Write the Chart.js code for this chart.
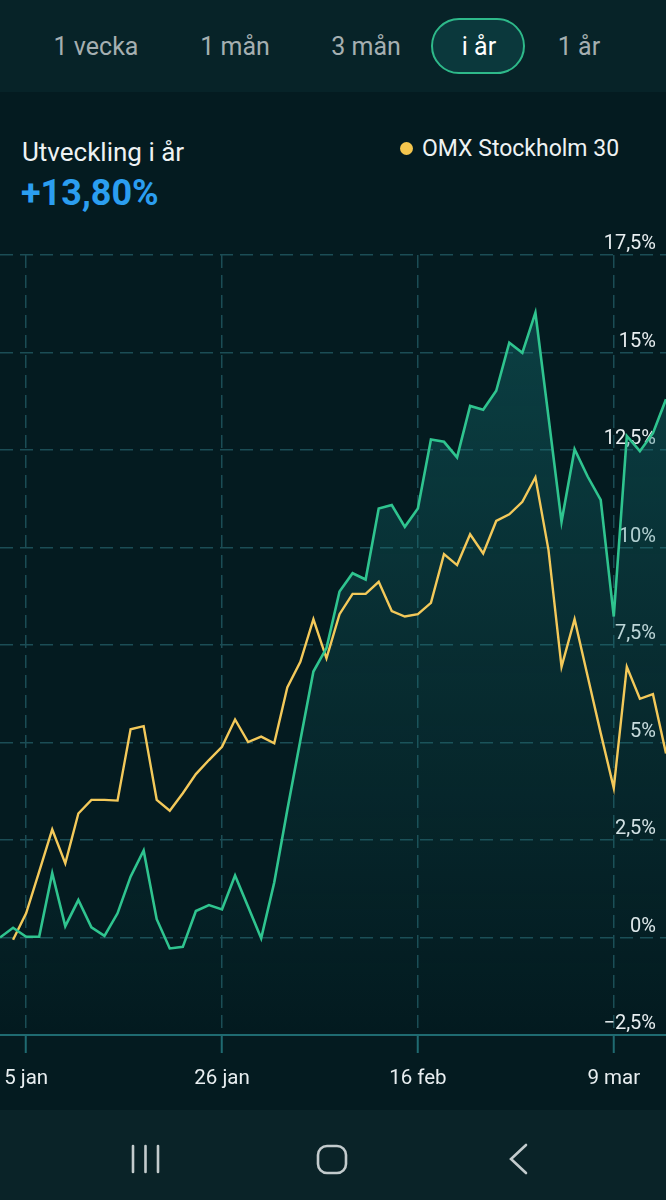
<!DOCTYPE html>
<html><head><meta charset="utf-8">
<script src="https://cdn.jsdelivr.net/npm/chart.js@4.4.1/dist/chart.umd.min.js"></script>
<style>
html,body{margin:0;padding:0;background:#041b20;width:666px;height:1200px;overflow:hidden;font-family:Roboto,"Noto Sans",sans-serif;}
#tabs{position:absolute;left:0;top:0;width:666px;height:92px;background:#072328;}
.tab{position:absolute;top:46px;transform:translate(-50%,-50%);font-size:25px;color:#a5afb1;white-space:nowrap;line-height:1;}
#pill{position:absolute;left:431px;top:18px;width:90px;height:52px;border:2px solid #2eb98a;border-radius:28px;background:#0b383c;}
#title{position:absolute;left:22px;top:139px;font-size:26px;color:#eef2f3;line-height:1;}
#value{position:absolute;left:21px;top:175px;font-size:36px;font-weight:bold;color:#2b9ef0;line-height:1;}
#legend{position:absolute;left:400px;top:137px;font-size:23px;color:#eef2f3;line-height:1;white-space:nowrap;}
#legend .dot{display:inline-block;width:13px;height:13px;border-radius:50%;background:#f5c64e;margin-right:9px;vertical-align:1px;}
#chartbox{position:absolute;left:0;top:230px;width:666px;height:880px;}
#nav{position:absolute;left:0;top:1110px;width:666px;height:90px;background:#0a2328;}
</style></head>
<body>
<div id="tabs">
  <div id="pill"></div>
  <div class="tab" style="left:96px">1 vecka</div>
  <div class="tab" style="left:235px">1 mån</div>
  <div class="tab" style="left:366px">3 mån</div>
  <div class="tab" style="left:479px;color:#ffffff">i år</div>
  <div class="tab" style="left:579px">1 år</div>
</div>
<div id="title">Utveckling i år</div>
<div id="value">+13,80%</div>
<div id="legend"><span class="dot"></span>OMX Stockholm 30</div>
<div id="chartbox"><canvas id="c" width="666" height="880"></canvas></div>
<div id="nav">
<svg width="666" height="90" style="position:absolute;left:0;top:0">
  <g stroke="#c3cbcd" stroke-width="2.6" fill="none" stroke-linecap="round">
    <line x1="133" y1="36" x2="133" y2="62"/>
    <line x1="145.5" y1="36" x2="145.5" y2="62"/>
    <line x1="158" y1="36" x2="158" y2="62"/>
    <rect x="318" y="36" width="28" height="27" rx="9"/>
    <polyline points="526,35 511,49 526,63"/>
  </g>
</svg>
</div>
<script>
// Trading days shown on the x axis
const dates = ['3 jan','4 jan','5 jan','6 jan','9 jan','10 jan','11 jan','12 jan','13 jan','16 jan','17 jan','18 jan','19 jan','20 jan','23 jan','24 jan','25 jan','26 jan','27 jan','30 jan','31 jan','1 feb','2 feb','3 feb','6 feb','7 feb','8 feb','9 feb','10 feb','13 feb','14 feb','15 feb','16 feb','17 feb','20 feb','21 feb','22 feb','23 feb','24 feb','27 feb','28 feb','1 mar','2 mar','3 mar','6 mar','7 mar','8 mar','9 mar','10 mar','13 mar','14 mar','15 mar'];
const xTickLabels = ['5 jan','26 jan','16 feb','9 mar'];
const yTicks = [-2.5, 0, 2.5, 5, 7.5, 10, 12.5, 15, 17.5];
const yTickLabels = ['−2,5%','0%','2,5%','5%','7,5%','10%','12,5%','15%','17,5%'];
// Portfolio development (%)
const portfolio = [0.00,0.25,0.02,0.02,1.65,0.29,0.96,0.26,0.04,0.62,1.56,2.23,0.47,-0.28,-0.24,0.68,0.83,0.72,1.59,0.79,-0.02,1.41,3.27,5.06,6.82,7.42,8.87,9.34,9.18,11.00,11.09,10.53,11.00,12.77,12.71,12.31,13.63,13.53,14.02,15.25,14.99,16.02,13.35,10.66,12.52,11.82,11.22,8.23,12.86,12.47,12.93,13.80];
// OMX Stockholm 30 (%)
const omxs30 = [null,-0.06,0.62,1.69,2.77,1.90,3.18,3.53,3.53,3.51,5.34,5.42,3.53,3.25,3.70,4.19,4.55,4.89,5.59,5.01,5.15,4.98,6.41,7.07,8.16,7.16,8.29,8.81,8.81,9.12,8.37,8.23,8.29,8.58,9.83,9.55,10.34,9.85,10.68,10.85,11.17,11.80,9.94,6.94,8.16,6.70,5.24,3.83,6.94,6.12,6.24,4.72];

const gridColor = '#1b4d55';
const axisColor = '#1f6b71';
const textColor = '#e8eef0';

function fillGradient(context){
  const chart = context.chart;
  const area = chart.chartArea;
  if(!area) return 'rgba(0,0,0,0)';
  const g = chart.ctx.createLinearGradient(0, area.top, 0, area.bottom);
  g.addColorStop(0, 'rgba(24,120,122,0.42)');
  g.addColorStop(0.55, 'rgba(24,120,122,0.18)');
  g.addColorStop(1, 'rgba(24,120,122,0)');
  return g;
}

new Chart(document.getElementById('c'), {
  type: 'line',
  data: {
    labels: dates,
    datasets: [
      {label:'Portfölj', data: portfolio, borderColor:'#2fc48f', borderWidth:2.6, pointRadius:0, tension:0, fill:'start', backgroundColor: fillGradient},
      {label:'OMX Stockholm 30', data: omxs30, borderColor:'#f3c95a', borderWidth:2.4, pointRadius:0, tension:0, fill:false}
    ]
  },
  options: {
    responsive:false,
    animation:false,
    devicePixelRatio:1,
    layout:{padding:{top:25,left:0,right:0,bottom:0}},
    plugins:{legend:{display:false}, tooltip:{enabled:false}, filler:{drawTime:'beforeDatasetsDraw'}},
    scales:{
      x:{
        type:'category',
        offset:false,
        afterBuildTicks: axis => { axis.ticks = axis.ticks.filter(t => xTickLabels.includes(dates[t.value])); },
        afterFit: s => { s.height = 75; s.paddingLeft = 0; s.paddingRight = 0; },
        grid:{color:gridColor, lineWidth:1.5, tickLength:18, tickColor:axisColor, tickWidth:2, tickBorderDash:[]},
        border:{display:true, color:axisColor, width:2, dash:[13,7]},
        ticks:{autoSkip:false, maxRotation:0, padding:14, color:textColor, font:{family:'Roboto', size:20.5}}
      },
      y:{
        type:'linear',
        position:'right',
        min:-2.5, max:17.5,
        afterBuildTicks: axis => { axis.ticks = yTicks.map(v => ({value:v})); },
        afterFit: s => { s.width = 0; s.paddingTop = 0; s.paddingBottom = 0; },
        grid:{color:gridColor, lineWidth:1.5, drawTicks:false},
        border:{display:false, dash:[13,7]},
        ticks:{mirror:true, padding:-10, labelOffset:-11, color:textColor, font:{family:'Roboto', size:20},
          callback: v => yTickLabels[yTicks.indexOf(v)]}
      }
    }
  }
});
</script>
</body></html>
